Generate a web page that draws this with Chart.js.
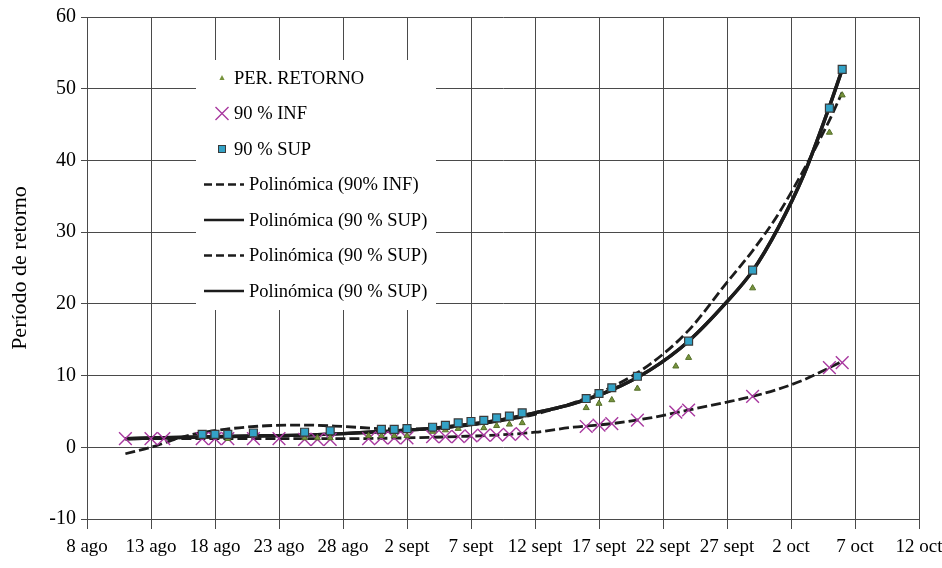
<!DOCTYPE html>
<html>
<head>
<meta charset="utf-8">
<script src="https://cdn.jsdelivr.net/npm/chart.js@4.4.1/dist/chart.umd.min.js"></script>
<style>
  html, body { margin: 0; padding: 0; background: #fff; }
</style>
</head>
<body>
<canvas id="grafico" width="942" height="568"></canvas>
<script>
// fechas de las observaciones (mes-día)
const fechas = ['08-11', '08-13', '08-14', '08-17', '08-18', '08-19', '08-21', '08-23',
  '08-25', '08-26', '08-27', '08-30', '08-31', '09-01', '09-02', '09-04', '09-05',
  '09-06', '09-07', '09-08', '09-09', '09-10', '09-11', '09-16', '09-17', '09-18',
  '09-20', '09-23', '09-24', '09-29', '10-05', '10-06'];

const perRetorno = [null, null, null, null, null, 1.2, null, null,
  1.3, 1.3, 1.3, 1.6, 1.6, 1.6, 1.6, 2.2, 2.4,
  2.6, null, 2.7, 3.0, 3.2, 3.4, 5.5, 6.1, 6.6,
  8.2, 11.3, 12.5, 22.2, 43.9, 49.1];

const inf90 = [1.2, 1.2, 1.2, 1.2, 1.2, 1.2, 1.2, 1.2,
  1.1, 1.1, 1.1, 1.2, 1.3, 1.3, 1.3, 1.5, 1.5,
  1.5, 1.6, 1.7, 1.7, 1.8, 1.9, 2.9, 3.1, 3.3,
  3.8, 4.9, 5.2, 7.1, 11.1, 11.8];

const sup90 = [null, null, null, 1.8, 1.8, 1.8, 2.0, null,
  2.1, null, 2.3, null, 2.5, 2.5, 2.6, 2.8, 3.05,
  3.4, 3.6, 3.75, 4.1, 4.35, 4.8, 6.8, 7.5, 8.3,
  9.9, null, 14.8, 24.7, 47.3, 52.7];

// líneas de tendencia polinómica (días desde el 8 ago)
const tendDias = [3, 5, 8, 11, 14, 17, 20, 23, 26, 29, 32, 35, 38, 41, 44, 47, 50, 52, 54, 56, 58, 59];
const tendInf = [1.2, 1.2, 1.2, 1.2, 1.2, 1.2, 1.2, 1.25, 1.35, 1.5, 1.7, 2.1, 2.8, 3.3, 4.1, 5.2, 6.3, 7.1, 8.1, 9.4, 11.1, 12.0];
const tendSup = [1.2, 1.3, 1.4, 1.5, 1.6, 1.7, 1.9, 2.2, 2.5, 3.0, 3.7, 4.8, 6.1, 8.0, 10.8, 14.8, 20.3, 24.6, 30.6, 38.0, 47.5, 52.7];
const tendPer = [-0.9, 0.0, 1.7, 2.55, 3.0, 3.1, 2.9, 2.6, 2.55, 2.9, 3.6, 4.6, 6.2, 8.4, 11.6, 16.3, 23.0, 27.4, 32.5, 38.7, 45.6, 49.5];

const etiquetasX = ['8 ago', '13 ago', '18 ago', '23 ago', '28 ago', '2 sept', '7 sept',
  '12 sept', '17 sept', '22 sept', '27 sept', '2 oct', '7 oct', '12 oct'];
const ticksY = [-10, 0, 10, 20, 30, 40, 50, 60];

function diasDesde8ago(md) {
  const [m, d] = md.split('-').map(Number);
  return (Date.UTC(2001, m - 1, d) - Date.UTC(2001, 7, 8)) / 86400000;
}
const dias = fechas.map(diasDesde8ago);
const puntos = vals => dias.map((x, i) => ({ x: x, y: vals[i] })).filter(p => p.y !== null);
const curva = vals => tendDias.map((x, i) => ({ x: x, y: vals[i] }));

const serif = '"Liberation Serif", "Times New Roman", serif';
const negro = '#1c1c1c';

function linea(label, vals, dash, width) {
  return {
    label: label, data: curva(vals), showLine: true, pointRadius: 0,
    borderColor: negro, borderWidth: width, borderDash: dash,
    cubicInterpolationMode: 'monotone', order: 2
  };
}

// leyenda dentro del área de trazado, con fondo blanco
const leyendaInterna = {
  id: 'leyendaInterna',
  afterDraw(chart) {
    const ctx = chart.ctx;
    const a = chart.chartArea;
    const x0 = a.left + 109, y0 = a.top + 43;
    ctx.save();
    ctx.fillStyle = '#fff';
    ctx.fillRect(x0, y0, 240, 250);
    ctx.font = '18.5px ' + serif;
    ctx.textBaseline = 'middle';
    chart.data.datasets.forEach((ds, i) => {
      const y = a.top + 61 + i * 35.5;
      const mx = x0 + 26;
      let tx = x0 + 38;
      ctx.lineWidth = ds.borderWidth;
      ctx.strokeStyle = ds.borderColor;
      ctx.fillStyle = ds.backgroundColor || ds.borderColor;
      ctx.setLineDash([]);
      if (ds.showLine) {
        ctx.setLineDash(ds.borderDash.length ? [8, 4] : []);
        ctx.lineWidth = 2.6;
        ctx.beginPath();
        ctx.moveTo(x0 + 8, y);
        ctx.lineTo(x0 + 48, y);
        ctx.stroke();
        ctx.setLineDash([]);
        tx = x0 + 53;
      } else if (ds.pointStyle === 'triangle') {
        ctx.beginPath();
        ctx.moveTo(mx, y - 3);
        ctx.lineTo(mx + 2.6, y + 2);
        ctx.lineTo(mx - 2.6, y + 2);
        ctx.closePath();
        ctx.fill();
      } else if (ds.pointStyle === 'crossRot') {
        ctx.lineWidth = 1.4;
        ctx.beginPath();
        ctx.moveTo(mx - 6.5, y - 6.5); ctx.lineTo(mx + 6.5, y + 6.5);
        ctx.moveTo(mx + 6.5, y - 6.5); ctx.lineTo(mx - 6.5, y + 6.5);
        ctx.stroke();
      } else {
        ctx.fillRect(mx - 3.5, y - 3.5, 7, 7);
        ctx.lineWidth = 1;
        ctx.strokeRect(mx - 3.5, y - 3.5, 7, 7);
      }
      ctx.fillStyle = '#000';
      ctx.fillText(ds.label, tx, y + 1);
    });
    ctx.restore();
  }
};

const config = {
  type: 'scatter',
  data: {
    datasets: [
      {
        label: 'PER. RETORNO', data: puntos(perRetorno),
        pointStyle: 'triangle', pointRadius: 3.5, pointHoverRadius: 3.5,
        backgroundColor: '#77933c', borderColor: '#55702a', borderWidth: 1, order: 1
      },
      {
        label: '90 % INF', data: puntos(inf90),
        pointStyle: 'crossRot', pointRadius: 9, pointHoverRadius: 9,
        backgroundColor: '#a8389f', borderColor: '#a8389f', borderWidth: 1.4, order: 1
      },
      {
        label: '90 % SUP', data: puntos(sup90),
        pointStyle: 'rect', pointRadius: 5.6, pointHoverRadius: 5.6,
        backgroundColor: '#33a2c6', borderColor: '#3a3a3a', borderWidth: 1.2, order: 0
      },
      linea('Polinómica (90% INF)', tendInf, [10, 4], 2.8),
      linea('Polinómica (90 % SUP)', tendSup, [], 3.4),
      linea('Polinómica (90 % SUP)', tendPer, [10, 4], 2.8),
      linea('Polinómica (90 % SUP)', tendSup, [], 3.4)
    ]
  },
  options: {
    responsive: false,
    animation: false,
    devicePixelRatio: 1,
    layout: { padding: { top: 15, right: 23, left: 0, bottom: 0 } },
    plugins: {
      legend: { display: false },
      tooltip: { enabled: false }
    },
    scales: {
      x: {
        type: 'linear', min: 0, max: 65,
        afterBuildTicks: s => { s.ticks = etiquetasX.map((t, i) => ({ value: i * 5 })); },
        afterFit: s => { s.height = 49; s.paddingRight = 0; s.paddingLeft = 0; },
        ticks: {
          autoSkip: false, maxRotation: 0, padding: 7, color: '#000',
          font: { family: serif, size: 19 },
          callback: (v, i) => etiquetasX[i]
        },
        grid: { color: '#4a4a4a', lineWidth: 1, tickLength: 10, tickColor: '#4a4a4a' },
        border: { color: '#4a4a4a' }
      },
      y: {
        min: -10, max: 60,
        afterBuildTicks: s => { s.ticks = ticksY.map(v => ({ value: v })); },
        afterFit: s => { s.width = 87; },
        ticks: {
          padding: 5, color: '#000',
          font: { family: serif, size: 20 }
        },
        grid: { color: '#4a4a4a', lineWidth: 1, tickLength: 6, tickColor: '#4a4a4a' },
        border: { color: '#4a4a4a' },
        title: {
          display: true, text: 'Período de retorno', color: '#000',
          font: { family: serif, size: 22 },
          padding: { top: 7, bottom: 0 }
        }
      }
    }
  },
  plugins: [leyendaInterna]
};

window.onload = function() {
  const ctx = document.getElementById('grafico').getContext('2d');
  window.grafico = new Chart(ctx, config);
};
</script>
</body>
</html>
